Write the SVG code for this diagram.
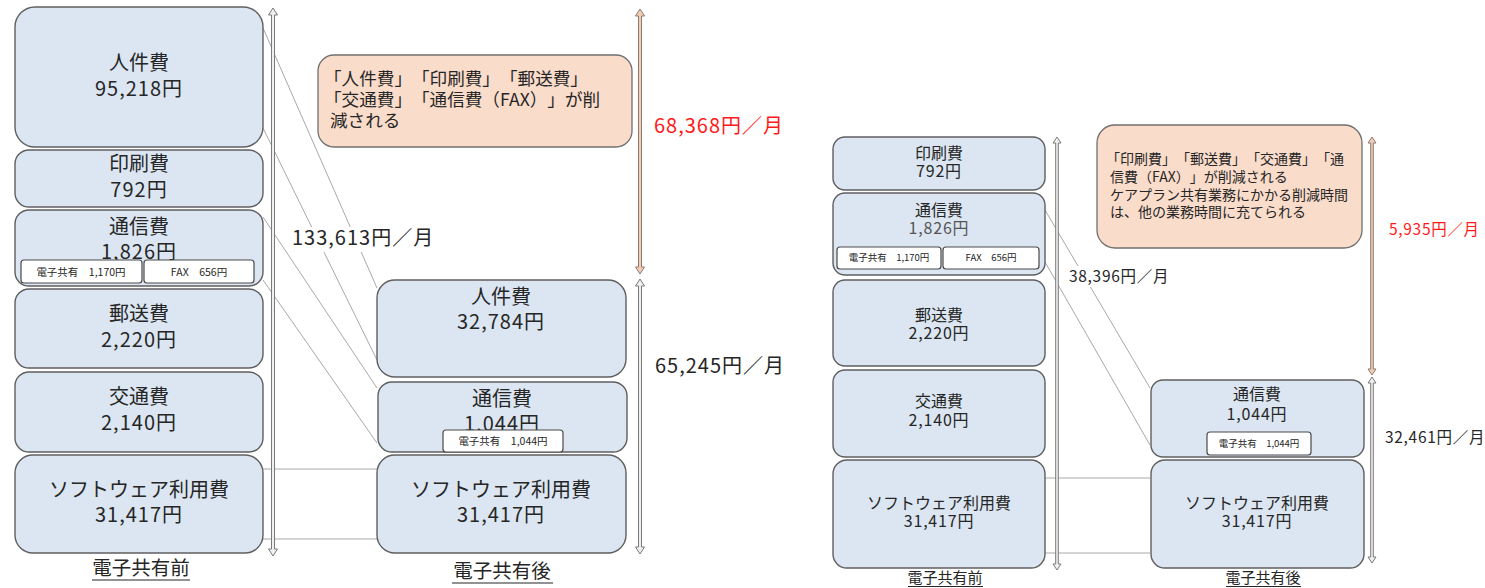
<svg xmlns="http://www.w3.org/2000/svg" width="1485" height="588" viewBox="0 0 1485 588">
<style>
text{font-family:"Noto Sans CJK JP","Noto Sans",sans-serif;fill:#262626;text-spacing-trim:space-all}
.box{fill:#dce6f2;stroke:#5f5f5f;stroke-width:1.4}
.sub{fill:#fff;stroke:#4a4a4a;stroke-width:1.2}
.call{fill:#fadccb;stroke:#707070;stroke-width:1.3}
.t20{font-size:20px;text-anchor:middle}
.n20{font-size:20px;text-anchor:middle;letter-spacing:1px}
.t16{font-size:16px;text-anchor:middle}
.n16{font-size:16px;text-anchor:middle;letter-spacing:0.8px}
.s11{font-size:10.5px;text-anchor:middle}
.s9{font-size:9.5px;text-anchor:middle}
.lab{font-size:20px;letter-spacing:1px}
.labs{font-size:15.5px;letter-spacing:0.7px}
.red{fill:#ff1a1a}
.con{stroke:#a8a8a8;stroke-width:1;fill:none}
.ul{stroke:#262626;stroke-width:1.2}
.ga{fill:#efefef;stroke:#7a7a7a;stroke-width:1}
.ba{fill:#f2cdb5;stroke:#8c7b70;stroke-width:1}
.c17{font-size:17.6px}
.c14{font-size:14px}
</style>

<g id="connectors">
  <line class="con" x1="263" y1="28" x2="377" y2="288"/>
  <line class="con" x1="263" y1="128" x2="377" y2="360"/>
  <line class="con" x1="263" y1="217" x2="377" y2="388"/>
  <line class="con" x1="263" y1="280" x2="377" y2="443"/>
  <line class="con" x1="263" y1="469" x2="377" y2="469"/>
  <line class="con" x1="263" y1="539" x2="377" y2="539"/>
  <line class="con" x1="1045" y1="210" x2="1150" y2="388"/>
  <line class="con" x1="1045" y1="262" x2="1150" y2="445"/>
  <line class="con" x1="1045" y1="478" x2="1150" y2="478"/>
  <line class="con" x1="1045" y1="553" x2="1150" y2="553"/>
  <path class="ga" d="M273,8 L277.5,15 L274.5,15 L274.5,549 L277.5,549 L273,556 L268.5,549 L271.5,549 L271.5,15 L268.5,15 Z"/>
  <path class="ba" d="M640,9 L644.5,16 L641.5,16 L641.5,267 L644.5,267 L640,274 L635.5,267 L638.5,267 L638.5,16 L635.5,16 Z"/>
  <path class="ga" d="M640,279 L644.5,286 L641.5,286 L641.5,547 L644.5,547 L640,554 L635.5,547 L638.5,547 L638.5,286 L635.5,286 Z"/>
  <path class="ga" d="M1057,137 L1061,143 L1058.3,143 L1058.3,564 L1061,564 L1057,570 L1053,564 L1055.7,564 L1055.7,143 L1053,143 Z"/>
  <path class="ba" d="M1372,137 L1376,143 L1373.3,143 L1373.3,369 L1376,369 L1372,375 L1368,369 L1370.7,369 L1370.7,143 L1368,143 Z"/>
  <path class="ga" d="M1372,377 L1376,383 L1373.3,383 L1373.3,557 L1376,557 L1372,563 L1368,557 L1370.7,557 L1370.7,383 L1368,383 Z"/>
</g>

<!-- Left panel: before -->
<g id="L-jinken">
  <rect class="box" x="15" y="7" width="248" height="140" rx="20"/>
  <text class="t20" x="139" y="70">人件費</text>
  <text class="n20" x="139" y="96">95,218円</text>
</g>
<g id="L-insatsu">
  <rect class="box" x="15" y="150" width="248" height="57" rx="14"/>
  <text class="t20" x="139" y="171">印刷費</text>
  <text class="n20" x="139" y="197">792円</text>
</g>
<g id="L-tsushin">
  <rect class="box" x="15" y="210" width="248" height="76" rx="14"/>
  <text class="t20" x="139" y="234">通信費</text>
  <text class="n20" x="139" y="259">1,826円</text>
  <rect class="sub" x="21" y="260" width="121" height="23" rx="3"/>
  <text class="s11" x="81" y="276">電子共有　1,170円</text>
  <rect class="sub" x="144" y="260" width="110" height="23" rx="3"/>
  <text class="s11" x="199" y="276">FAX　656円</text>
</g>
<g id="L-yuso">
  <rect class="box" x="15" y="289" width="248" height="79" rx="14"/>
  <text class="t20" x="139" y="321">郵送費</text>
  <text class="n20" x="139" y="347">2,220円</text>
</g>
<g id="L-kotsu">
  <rect class="box" x="15" y="372" width="248" height="80" rx="14"/>
  <text class="t20" x="139" y="404">交通費</text>
  <text class="n20" x="139" y="430">2,140円</text>
</g>
<g id="L-soft">
  <rect class="box" x="15" y="455" width="248" height="98" rx="18"/>
  <text class="t20" x="139" y="497">ソフトウェア利用費</text>
  <text class="n20" x="139" y="522">31,417円</text>
</g>
<g id="L-label-before">
  <text class="t20" x="141" y="575" style="font-size:19.5px">電子共有前</text>
  <line class="ul" x1="92" y1="580" x2="190" y2="580"/>
</g>

<!-- Left panel: after -->
<g id="L-jinken-after">
  <rect class="box" x="377" y="280" width="249" height="97" rx="18"/>
  <text class="t20" x="501" y="304">人件費</text>
  <text class="n20" x="501" y="329">32,784円</text>
</g>
<g id="L-tsushin-after">
  <rect class="box" x="378" y="382" width="249" height="70" rx="14"/>
  <text class="t20" x="502" y="406">通信費</text>
  <text class="n20" x="502" y="431">1,044円</text>
  <rect class="sub" x="443" y="430" width="120" height="22" rx="3"/>
  <text class="s11" x="503" y="445">電子共有　1,044円</text>
</g>
<g id="L-soft-after">
  <rect class="box" x="377" y="455" width="249" height="98" rx="18"/>
  <text class="t20" x="501" y="497">ソフトウェア利用費</text>
  <text class="n20" x="501" y="522">31,417円</text>
</g>
<g id="L-label-after">
  <text class="t20" x="502" y="578" style="font-size:19.5px">電子共有後</text>
  <line class="ul" x1="452" y1="583" x2="553" y2="583"/>
</g>

<g id="L-callout">
  <rect class="call" x="318" y="55" width="314" height="92" rx="16"/>
  <text class="c17" x="324" y="85">「人件費」「印刷費」「郵送費」</text>
  <text class="c17" x="324" y="106">「交通費」「通信費（FAX）」が削</text>
  <text class="c17" x="330" y="127">減される</text>
</g>
<g id="L-totals">
  <rect x="289" y="227" width="146" height="25" fill="#fff"/>
  <text class="lab" x="292" y="245">133,613円／月</text>
  <text class="lab red" x="654" y="133">68,368円／月</text>
  <text class="lab" x="655" y="373">65,245円／月</text>
</g>

<!-- Right panel: before -->
<g id="R-insatsu">
  <rect class="box" x="833" y="137" width="212" height="53" rx="12"/>
  <text class="t16" x="939" y="159">印刷費</text>
  <text class="n16" x="939" y="177">792円</text>
</g>
<g id="R-tsushin">
  <rect class="box" x="833" y="193" width="212" height="82" rx="12"/>
  <text class="t16" x="939" y="216">通信費</text>
  <text class="n16" x="939" y="234" style="fill:#555">1,826円</text>
  <rect class="sub" x="837" y="247" width="104" height="22" rx="3"/>
  <text class="s9" x="889" y="261">電子共有　1,170円</text>
  <rect class="sub" x="943" y="247" width="96" height="22" rx="3"/>
  <text class="s9" x="991" y="261">FAX　656円</text>
</g>
<g id="R-yuso">
  <rect class="box" x="833" y="280" width="212" height="86" rx="12"/>
  <text class="t16" x="939" y="321">郵送費</text>
  <text class="n16" x="939" y="339">2,220円</text>
</g>
<g id="R-kotsu">
  <rect class="box" x="833" y="370" width="212" height="87" rx="12"/>
  <text class="t16" x="939" y="407">交通費</text>
  <text class="n16" x="939" y="426">2,140円</text>
</g>
<g id="R-soft">
  <rect class="box" x="833" y="460" width="212" height="108" rx="14"/>
  <text class="t16" x="939" y="509">ソフトウェア利用費</text>
  <text class="n16" x="939" y="527">31,417円</text>
</g>
<g id="R-label-before">
  <text class="t16" x="945" y="583" style="font-size:15px">電子共有前</text>
  <line class="ul" x1="908" y1="586.5" x2="983" y2="586.5"/>
</g>

<!-- Right panel: after -->
<g id="R-tsushin-after">
  <rect class="box" x="1151" y="380" width="213" height="77" rx="12"/>
  <text class="t16" x="1257" y="400">通信費</text>
  <text class="n16" x="1257" y="420">1,044円</text>
  <rect class="sub" x="1207" y="432" width="104" height="23" rx="3"/>
  <text class="s9" x="1259" y="447">電子共有　1,044円</text>
</g>
<g id="R-soft-after">
  <rect class="box" x="1151" y="460" width="213" height="108" rx="14"/>
  <text class="t16" x="1257" y="509">ソフトウェア利用費</text>
  <text class="n16" x="1257" y="527">31,417円</text>
</g>
<g id="R-label-after">
  <text class="t16" x="1263" y="583" style="font-size:15px">電子共有後</text>
  <line class="ul" x1="1226" y1="586.5" x2="1301" y2="586.5"/>
</g>

<g id="R-callout">
  <rect class="call" x="1097" y="125" width="265" height="123" rx="18"/>
  <text class="c14" x="1106" y="164">「印刷費」「郵送費」「交通費」「通</text>
  <text class="c14" x="1110" y="182">信費（FAX）」が削減される</text>
  <text class="c14" x="1110" y="200">ケアプラン共有業務にかかる削減時間</text>
  <text class="c14" x="1110" y="217">は、他の業務時間に充てられる</text>
</g>
<g id="R-totals">
  <rect x="1066" y="266" width="108" height="21" fill="#fff"/>
  <text class="labs" x="1069" y="282">38,396円／月</text>
  <text class="labs red" x="1389" y="235">5,935円／月</text>
  <text class="labs" x="1385" y="443">32,461円／月</text>
</g>
</svg>
